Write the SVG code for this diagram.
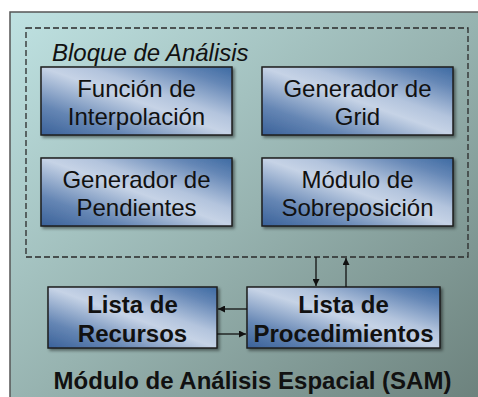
<svg xmlns="http://www.w3.org/2000/svg" width="478" height="397" viewBox="0 0 478 397">
<defs>
<linearGradient id="bg" x1="0" y1="0" x2="1" y2="1">
<stop offset="0" stop-color="#bfe2e2"/>
<stop offset="0.5" stop-color="#97b3b0"/>
<stop offset="1" stop-color="#6a7f7a"/>
</linearGradient>
<linearGradient id="metal" x1="0" y1="1" x2="1" y2="0">
<stop offset="0" stop-color="#3a6199"/>
<stop offset="0.22" stop-color="#6586b4"/>
<stop offset="0.5" stop-color="#c6d3e6"/>
<stop offset="0.62" stop-color="#b3c4dd"/>
<stop offset="0.85" stop-color="#6587b6"/>
<stop offset="1" stop-color="#3d6aa2"/>
</linearGradient>
<filter id="sh" x="-10%" y="-10%" width="130%" height="130%">
<feDropShadow dx="2" dy="2" stdDeviation="1.5" flood-color="#000" flood-opacity="0.45"/>
</filter>
<marker id="ah" viewBox="0 0 10 10" refX="10" refY="5" markerWidth="7" markerHeight="7" markerUnits="userSpaceOnUse" orient="auto">
<path d="M0,0 L10,5 L0,10 z" fill="#111"/>
</marker>
<style>
.box{fill:url(#metal);stroke:#1e1e1e;stroke-width:1.5;filter:url(#sh)}
.t{font-family:"Liberation Sans",Arial,sans-serif;font-size:24px;fill:#111;text-anchor:middle}
.b{font-weight:bold}
.c{stroke:#111;stroke-width:1.3;fill:none;marker-end:url(#ah)}
</style>
</defs>
<g id="background">
<rect x="10" y="12" width="480" height="400" fill="url(#bg)" stroke="#555" stroke-width="1.5"/>
</g>
<g id="bloque">
<rect x="26" y="28" width="442" height="229" fill="none" stroke="#2a2a2a" stroke-width="1.3" stroke-dasharray="6,3"/>
<text x="52" y="61" class="t" style="text-anchor:start;font-style:italic">Bloque de Análisis</text>
</g>
<g id="n1">
<rect x="41" y="67" width="191" height="68" class="box"/>
<text x="136.5" y="97" class="t">Función de</text>
<text x="136.5" y="125" class="t">Interpolación</text>
</g>
<g id="n2">
<rect x="262" y="67" width="191" height="68" class="box"/>
<text x="357.5" y="97" class="t">Generador de</text>
<text x="357.5" y="125" class="t">Grid</text>
</g>
<g id="n3">
<rect x="41" y="158" width="191" height="68" class="box"/>
<text x="136.5" y="188" class="t">Generador de</text>
<text x="136.5" y="216" class="t">Pendientes</text>
</g>
<g id="n4">
<rect x="262" y="158" width="191" height="68" class="box"/>
<text x="357.5" y="188" class="t">Módulo de</text>
<text x="357.5" y="216" class="t">Sobreposición</text>
</g>
<g id="n5">
<rect x="48" y="287" width="169" height="61" class="box"/>
<text x="132.5" y="313" class="t b">Lista de</text>
<text x="132.5" y="342" class="t b">Recursos</text>
</g>
<g id="n6">
<rect x="247" y="287" width="193" height="61" class="box"/>
<text x="343.5" y="313" class="t b">Lista de</text>
<text x="343.5" y="342" class="t b">Procedimientos</text>
</g>
<g id="connectors">
<line x1="316" y1="257" x2="316" y2="286" class="c"/>
<line x1="346" y1="287" x2="346" y2="258" class="c"/>
<line x1="247" y1="309" x2="218" y2="309" class="c"/>
<line x1="217" y1="334" x2="246" y2="334" class="c"/>
</g>
<g id="title">
<text x="252.5" y="389" class="t b">Módulo de Análisis Espacial (SAM)</text>
</g>
</svg>
